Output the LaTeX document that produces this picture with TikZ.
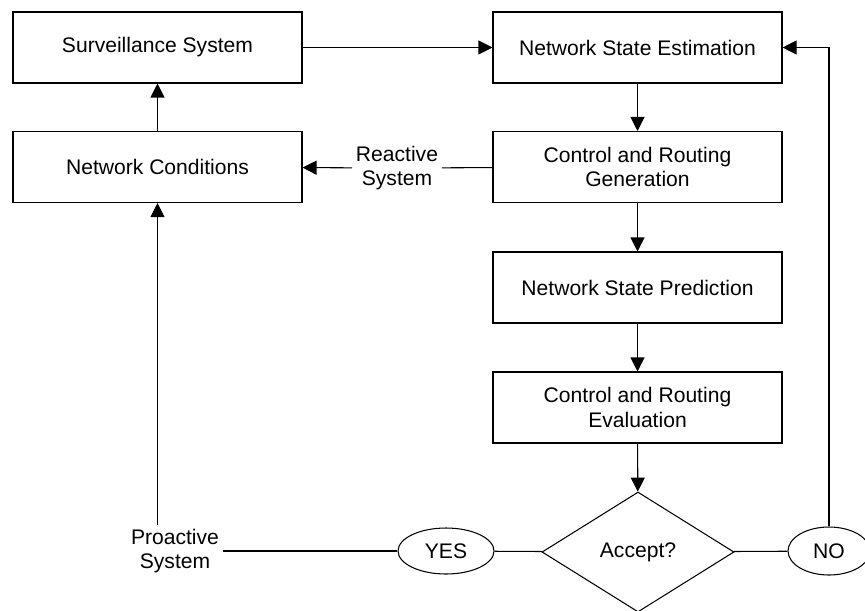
\documentclass[tikz,border=0pt]{standalone}
\usepackage{fontspec}
\setmainfont{Liberation Sans}
\usetikzlibrary{shapes.geometric,arrows.meta}
\tikzset{
  blok/.style={draw,line width=0.6pt,minimum width=5.78cm,minimum height=1.42cm,inner sep=0pt,align=center},
  keuze/.style={draw,diamond,line width=0.6pt,minimum width=3.84cm,minimum height=2.4cm,inner sep=0pt},
  antw/.style={draw,ellipse,line width=0.6pt,inner sep=0pt},
  tekst/.style={align=center,inner sep=2pt},
  pijl/.style={line width=0.6pt,-{Triangle[length=0.28cm,width=0.28cm]}},
  lijn/.style={line width=0.6pt}
}
\begin{document}
\begin{tikzpicture}[every node/.style={font=\fontsize{12}{14}\selectfont}]
\useasboundingbox (0,0) rectangle (17.3,12.2);
\node [blok] (surv) at (3.15,11.25) {Surveillance System};
\node [blok] (cond) at (3.15,8.86) {Network Conditions};
\node [blok] (est) at (12.75,11.25) {Network State Estimation};
\node [blok] (gen) at (12.75,8.86) {Control and Routing\\Generation};
\node [blok] (pred) at (12.75,6.45) {Network State Prediction};
\node [blok] (eval) at (12.75,4.05) {Control and Routing\\Evaluation};
\node [keuze] (acc) at (12.76,1.16) {Accept?};
\node [antw,minimum width=1.92cm,minimum height=0.92cm] (yes) at (8.92,1.18) {YES};
\node [antw,minimum width=1.64cm,minimum height=0.96cm] (no) at (16.58,1.18) {NO};
\node [tekst] (reac) at (7.94,8.84) {Reactive\\System};
\node [tekst] (proac) at (3.5,1.18) {Proactive\\System};
% boven
\draw [pijl] (surv) -- (est);
\draw [pijl] (cond) -- (surv);
\draw [pijl] (est) -- (gen);
\draw [lijn] (gen) -- (reac);
\draw [pijl] (reac) -- (cond);
% rechter kolom
\draw [pijl] (gen) -- (pred);
\draw [pijl] (pred) -- (eval);
\draw [pijl] (eval) -- (acc);
% onder
\draw [lijn] (acc) -- (yes);
\draw [lijn] (yes) -- (proac);
\draw [pijl] (proac.north -| cond.south) -- (cond.south);
\draw [lijn] (acc) -- (no);
\draw [pijl] (no.north) |- (est.east);
\end{tikzpicture}
\end{document}
